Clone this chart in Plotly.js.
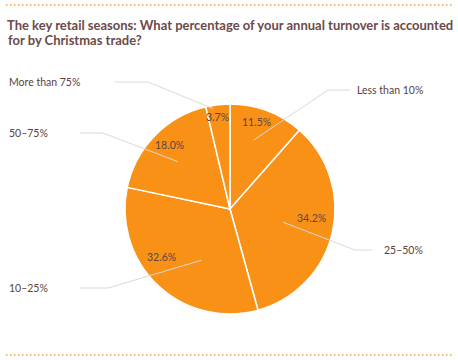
<!DOCTYPE html>
<html>
<head>
<meta charset="utf-8">
<script src="https://cdn.plot.ly/plotly-3.0.1.min.js"></script>
<style>html,body{margin:0;padding:0;background:#fff}#chart{width:458px;height:360px}</style>
</head>
<body>
<div id="chart"></div>
<script>
// ---- data ----
const categories = ['Less than 10%', '25–50%', '10–25%', '50–75%', 'More than 75%'];
const values = [11.5, 34.2, 32.6, 18.0, 3.7];
const titleLine1 = 'The key retail seasons: What percentage of your annual turnover is accounted';
const titleLine2 = 'for by Christmas trade?';

// ---- layout helpers (pixels) ----
const W = 458, H = 360;
const cx = 230, cy = 209, R = 105;
const labelFont = "Lato, 'Open Sans', sans-serif";
const textColor = '#5b4040';
const leaders = [
  {r: 0.69, da: -2, elbow: [328, 90], end: [350, 90], lx: 355, ly: 90},
  {r: 0.52, da: 1, elbow: [355, 250], end: [372, 250], lx: 382, ly: 250},
  {r: 0.56, da: -14, elbow: [108, 288], end: [80, 288], lx: 7, ly: 288},
  {r: 0.67, da: -2, elbow: [103, 133], end: [80, 133], lx: 7, ly: 133},
  {r: 0.97, da: -3, elbow: [148, 82], end: [115, 82], lx: 7, ly: 82}
];
const pctR = [0.87, 0.78, 0.80, 0.84, 0.88];
const pctDa = [-4, -7, 12, 2, -1];

const px = x => x / W;
const py = y => 1 - y / H;

const total = values.reduce((a, b) => a + b, 0);
let cum = 0;
const mids = values.map(v => { const m = (cum + v / 2) / total * 360; cum += v; return m; });

const shapes = [];
const annotations = [];
mids.forEach((m, i) => {
  const L = leaders[i];
  const a = (m + L.da) * Math.PI / 180;
  const ax = cx + Math.sin(a) * R * L.r, ay = cy - Math.cos(a) * R * L.r;
  shapes.push({
    type: 'path', xref: 'paper', yref: 'paper',
    path: `M ${px(ax)} ${py(ay)} L ${px(L.elbow[0])} ${py(L.elbow[1])} L ${px(L.end[0])} ${py(L.end[1])}`,
    line: {color: '#d9d9d9', width: 1}, layer: 'above'
  });
  annotations.push({
    xref: 'paper', yref: 'paper', x: px(L.lx), y: py(L.ly), xanchor: 'left', yanchor: 'middle',
    text: categories[i], showarrow: false,
    font: {family: labelFont, size: 10.5, color: textColor}
  });
  const b = (m + pctDa[i]) * Math.PI / 180;
  annotations.push({
    xref: 'paper', yref: 'paper',
    x: px(cx + Math.sin(b) * R * pctR[i]), y: py(cy - Math.cos(b) * R * pctR[i]),
    xanchor: 'center', yanchor: 'middle',
    text: values[i].toFixed(1) + '%', showarrow: false,
    font: {family: labelFont, size: 10.5, color: '#5a4646'}
  });
});

annotations.push({
  xref: 'paper', yref: 'paper', x: px(6), y: py(40), xanchor: 'left', yanchor: 'middle',
  text: '<b>' + titleLine2 + '</b>', showarrow: false,
  font: {family: labelFont, size: 13, color: '#6b4a4a'}
});

// dotted orange rules
shapes.push({type: 'line', xref: 'paper', yref: 'paper', x0: px(6), x1: px(453), y0: py(5), y1: py(5),
  line: {color: '#f3a445', width: 1.5, dash: '1.5px,2.5px'}});
shapes.push({type: 'line', xref: 'paper', yref: 'paper', x0: px(6), x1: px(453), y0: py(355), y1: py(355),
  line: {color: '#f3a445', width: 1.5, dash: '1.5px,2.5px'}});

const trace = {
  type: 'pie',
  labels: categories,
  values: values,
  sort: false,
  direction: 'clockwise',
  rotation: 0,
  textinfo: 'none',
  hoverinfo: 'label+percent',
  marker: {colors: values.map(() => '#f99117'), line: {color: '#ffffff', width: 1.5}},
  domain: {x: [px(cx - R), px(cx + R)], y: [py(cy + R), py(cy - R)]},
  showlegend: false
};

const layout = {
  width: W, height: H,
  margin: {l: 0, r: 0, t: 0, b: 0},
  paper_bgcolor: '#ffffff',
  title: {
    text: '<b>' + titleLine1 + '</b>',
    x: px(7), xanchor: 'left', xref: 'paper',
    y: py(25), yanchor: 'middle', yref: 'paper',
    font: {family: labelFont, size: 13, color: '#6b4a4a'}
  },
  shapes: shapes,
  annotations: annotations
};

Plotly.newPlot('chart', [trace], layout, {displayModeBar: false, staticPlot: true});
</script>
</body>
</html>
